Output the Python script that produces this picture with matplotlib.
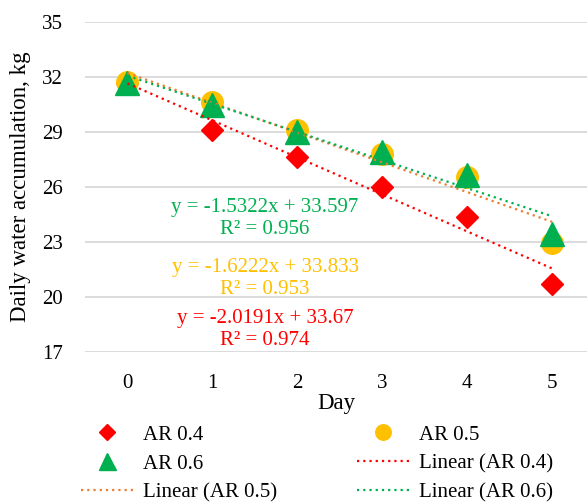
import matplotlib
matplotlib.use("Agg")
import matplotlib.pyplot as plt
import numpy as np

DAYS = [0, 1, 2, 3, 4, 5]
AR04 = [31.7, 29.1, 27.65, 26.0, 24.35, 20.7]
AR05 = [31.75, 30.65, 29.1, 27.8, 26.55, 22.95]
AR06 = [31.65, 30.45, 29.0, 27.9, 26.65, 23.45]
# Excel trendline coefficients (x = category index 1..6)
FITS = {"AR 0.4": (-2.0191, 33.67, 0.974),
        "AR 0.5": (-1.6222, 33.833, 0.953),
        "AR 0.6": (-1.5322, 33.597, 0.956)}
Y_TICKS = [17, 20, 23, 26, 29, 32, 35]

RED, GOLD, GREEN, ORANGE = "#FF0000", "#FFC000", "#00B050", "#ED7D31"

plt.rcParams.update({"font.family": ["Liberation Serif", "DejaVu Serif"], "font.size": 15})

fig = plt.figure(figsize=(5.87, 5.04), dpi=100)
ax = fig.add_axes([85 / 587, 1 - 352 / 504, 1 - 85 / 587, 330 / 504])

x = np.array(DAYS)
h04, = ax.plot(x, AR04, "D", color=RED, ms=11.5, ls="none", label="AR 0.4", zorder=3)
h05, = ax.plot(x, AR05, "o", color=GOLD, ms=15.5, ls="none", label="AR 0.5", zorder=4)
h06, = ax.plot(x, AR06, "^", color=GREEN, ms=17, ls="none", label="AR 0.6", zorder=5)

trend = {}
for name, color in (("AR 0.4", RED), ("AR 0.5", ORANGE), ("AR 0.6", GREEN)):
    m, b, _ = FITS[name]
    trend[name], = ax.plot(x, m * (x + 1) + b, color=color, ls=(0, (1, 1.8)), lw=1.6,
                           label=f"Linear ({name})", zorder=6)

# equation labels
for name, color, ymid in (("AR 0.6", GREEN, 24.3), ("AR 0.5", GOLD, 21.0), ("AR 0.4", RED, 18.22)):
    m, b, r2 = FITS[name]
    ax.text(1.62, ymid, f"y = {m:g}x + {b:g}\nR² = {r2:.3f}", color=color, ha="center",
            va="center", fontsize=15, linespacing=1.2, zorder=7)

ax.set_ylim(17, 35)
ax.set_xlim(-0.5, 5.41)
ax.set_yticks(Y_TICKS)
ax.set_xticks(DAYS)
ax.grid(True, axis="y", color="#D9D9D9", lw=1.3)
ax.set_axisbelow(True)
for s in ax.spines.values():
    s.set_visible(False)
ax.tick_params(length=0, labelsize=15)
ax.tick_params(axis="y", pad=16)
ax.tick_params(axis="x", pad=15.5)
ax.set_xlabel("Day", fontsize=16.5, labelpad=0)
ax.set_ylabel("Daily water accumulation, kg", fontsize=16.5, labelpad=8)

order = [h04, h06, trend["AR 0.5"], h05, trend["AR 0.4"], trend["AR 0.6"]]
fig.legend(order, [h.get_label() for h in order], ncol=2, loc="upper left",
           bbox_to_anchor=(81 / 587, 1 - 425 / 504), frameon=False, fontsize=15,
           handlelength=2.5, handletextpad=0.48, columnspacing=3.85,
           labelspacing=0.45, borderaxespad=0, borderpad=0, markerscale=0.72)

fig.savefig("out.png", dpi=100)
